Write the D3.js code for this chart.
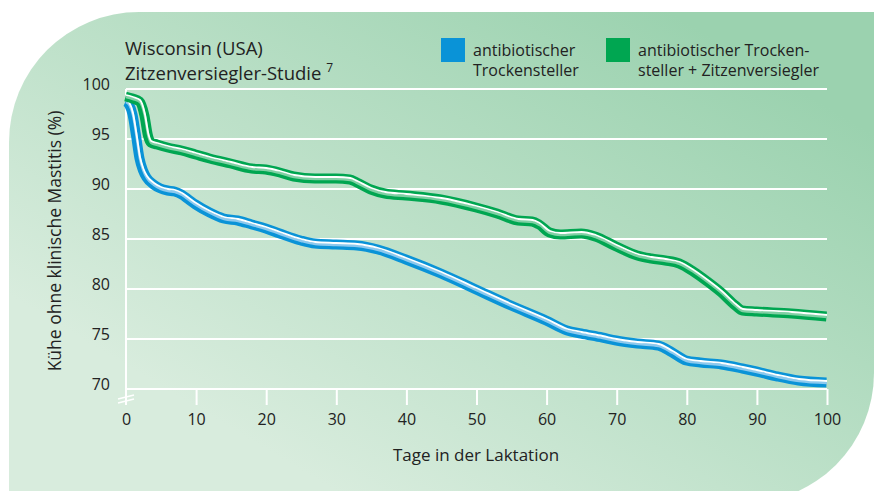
<!DOCTYPE html>
<html>
<head>
<meta charset="utf-8">
<script src="https://cdn.jsdelivr.net/npm/d3@7"></script>
<style>
  body { margin: 0; background: #fff; }
  svg text { font-family: "Open Sans", "Noto Sans", sans-serif; fill: #222; }
</style>
</head>
<body>
<div id="chart"></div>
<script>
// days in lactation and share of cows without clinical mastitis (%)
var blueDays = [0, 0.5, 1, 1.5, 2, 2.5, 3, 4, 5, 6, 7, 8, 9, 10, 12, 14, 16, 18, 20, 22, 25, 27, 30, 33, 36, 40, 45, 50, 55, 60, 63, 65, 68, 70, 73, 76, 78, 80, 82, 85, 88, 90, 93, 96, 100];
var blueValues = [98.9, 98.6, 97.6, 95.5, 93.2, 92.0, 91.3, 90.6, 90.2, 90.0, 89.9, 89.6, 89.1, 88.6, 87.8, 87.2, 87.0, 86.6, 86.2, 85.7, 85.0, 84.7, 84.6, 84.5, 84.1, 83.1, 81.7, 80.1, 78.5, 77.0, 76.0, 75.7, 75.3, 75.0, 74.7, 74.5, 73.8, 73.0, 72.8, 72.6, 72.2, 71.9, 71.4, 71.0, 70.8];

var greenDays = [0, 1, 2, 2.7, 3.2, 3.6, 4.5, 6, 8, 10, 12, 15, 18, 20, 22, 24, 27, 30, 32, 33, 35, 37, 40, 45, 50, 53, 56, 58, 59, 60.5, 62, 65, 67, 70, 73, 75, 77, 79, 81, 83, 85, 87, 88, 90, 95, 100];
var greenValues = [99.4, 99.2, 98.9, 97.5, 95.5, 94.8, 94.6, 94.3, 94.0, 93.6, 93.2, 92.7, 92.2, 92.1, 91.8, 91.4, 91.2, 91.2, 91.1, 90.8, 90.1, 89.7, 89.5, 89.1, 88.3, 87.7, 87.0, 86.9, 86.6, 85.8, 85.6, 85.7, 85.4, 84.4, 83.5, 83.2, 83.0, 82.7, 81.9, 80.9, 79.8, 78.5, 78.0, 77.9, 77.7, 77.4];

var xTicks = [0, 10, 20, 30, 40, 50, 60, 70, 80, 90, 100];
var yTicks = [70, 75, 80, 85, 90, 95, 100];
var legendLabels = [["antibiotischer", "Trockensteller"], ["antibiotischer Trocken-", "steller + Zitzenversiegler"]];
var seriesColors = ["#0a93d7", "#00a651"];
var paleColors = ["#8cc9ee", "#80d0a4"];

var width = 874, height = 491;

var svg = d3.select("#chart").append("svg")
    .attr("width", width)
    .attr("height", height);

var grad = svg.append("defs").append("linearGradient")
    .attr("id", "bg")
    .attr("gradientUnits", "userSpaceOnUse")
    .attr("x1", 650).attr("y1", 0)
    .attr("x2", 350).attr("y2", 500);
grad.append("stop").attr("offset", "0").attr("stop-color", "#9bd2af");
grad.append("stop").attr("offset", "1").attr("stop-color", "#d8ecdd");

// panel with rounded top-left and bottom-right corners
var L = 9, T = 12, R = 874, B = 503, r = 130;
svg.append("path")
    .attr("d", "M" + L + "," + (T + r) +
      " A" + r + "," + r + " 0 0 1 " + (L + r) + "," + T +
      " L" + R + "," + T +
      " L" + R + "," + (B - r) +
      " A" + r + "," + r + " 0 0 1 " + (R - r) + "," + B +
      " L" + L + "," + B + " Z")
    .attr("fill", "url(#bg)");

var x = d3.scaleLinear().domain([0, 100]).range([126, 827]);
var y = d3.scaleLinear().domain([70, 100]).range([389, 89]);

// gridlines
svg.selectAll(".grid")
    .data(yTicks)
  .enter().append("line")
    .attr("x1", x(0)).attr("x2", x(100))
    .attr("y1", function(d){return y(d);})
    .attr("y2", function(d){return y(d);})
    .attr("stroke", "#fff").attr("stroke-width", 2);

// y axis line with break
svg.append("line")
    .attr("x1", x(0)).attr("x2", x(0))
    .attr("y1", y(100)).attr("y2", 405)
    .attr("stroke", "#fff").attr("stroke-width", 2);
[397, 401].forEach(function(yy){
  svg.append("line")
      .attr("x1", 118).attr("x2", 134)
      .attr("y1", yy + 2).attr("y2", yy - 2)
      .attr("stroke", "#fff").attr("stroke-width", 1.5);
});

// x axis ticks
var xAxis = d3.axisBottom(x).tickValues(xTicks).tickSize(16).tickPadding(9);
var gx = svg.append("g").attr("transform", "translate(0," + y(70) + ")").call(xAxis);
gx.select(".domain").remove();
gx.selectAll(".tick line").attr("stroke", "#fff").attr("stroke-width", 2)
  .filter(function(d){return d === 0;}).remove();
gx.selectAll(".tick text").attr("font-size", "16px").attr("fill", "#222")
  .attr("font-family", "Open Sans, Noto Sans, sans-serif");

// y labels
var yAxis = d3.axisLeft(y).tickValues(yTicks).tickSize(0).tickPadding(16);
var gy = svg.append("g").attr("transform", "translate(" + x(0) + ",-5)").call(yAxis);
gy.select(".domain").remove();
gy.selectAll(".tick text").attr("font-size", "16px").attr("fill", "#222")
  .attr("font-family", "Open Sans, Noto Sans, sans-serif");

// series drawn as ribbon: coloured band, pale inner stripe, white highlight
var line = d3.line()
    .x(function(d){return x(d[0]);})
    .y(function(d){return y(d[1]);})
    .curve(d3.curveMonotoneX);

var series = [d3.zip(blueDays, blueValues), d3.zip(greenDays, greenValues)];
series.forEach(function(s, i){
  var g = svg.append("g");
  g.append("path").attr("d", line(s))
      .attr("transform", "translate(-0.5,1.5)")
      .attr("fill", "none").attr("stroke", seriesColors[i]).attr("stroke-width", 10);
  g.append("path").attr("d", line(s))
      .attr("transform", "translate(0,2)")
      .attr("fill", "none").attr("stroke", paleColors[i]).attr("stroke-width", 2.5);
  g.append("path").attr("d", line(s))
      .attr("fill", "none").attr("stroke", "#fff").attr("stroke-width", 1.8);
});

// title
var title = svg.append("text").attr("x", 125).attr("y", 55).attr("font-size", "18.5px");
title.append("tspan").attr("x", 125).text("Wisconsin (USA)");
title.append("tspan").attr("x", 125).attr("dy", 25).text("Zitzenversiegler-Studie ");
title.append("tspan").attr("font-size", "12px").attr("dy", -8).text("7");

// legend
var legX = [441, 606];
legendLabels.forEach(function(lab, i){
  svg.append("rect")
      .attr("x", legX[i]).attr("y", 38)
      .attr("width", 24).attr("height", 24)
      .attr("fill", seriesColors[i]);
  svg.append("text").attr("font-size", "16px")
      .attr("x", legX[i] + 32).attr("y", 56).text(lab[0]);
  svg.append("text").attr("font-size", "16px")
      .attr("x", legX[i] + 32).attr("y", 76).text(lab[1]);
});

// axis titles
svg.append("text")
    .attr("transform", "translate(61,241) rotate(-90)")
    .attr("text-anchor", "middle")
    .attr("font-size", "17.5px")
    .text("Kühe ohne klinische Mastitis (%)");

svg.append("text")
    .attr("x", 476).attr("y", 461)
    .attr("text-anchor", "middle")
    .attr("font-size", "17px")
    .text("Tage in der Laktation");
</script>
</body>
</html>
